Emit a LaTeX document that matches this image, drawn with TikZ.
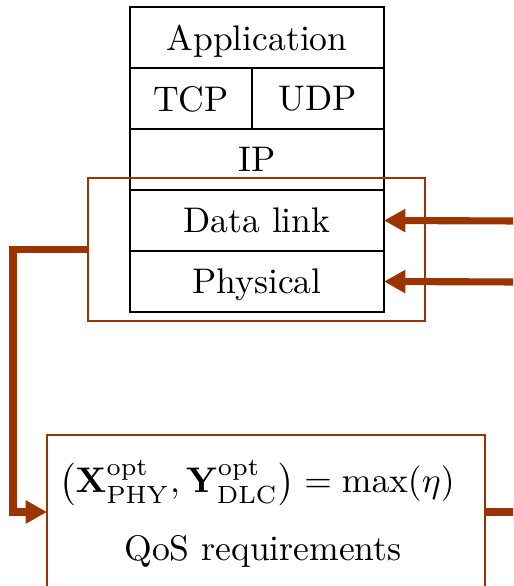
\documentclass[tikz,border=0pt]{standalone}
\usepackage{amssymb}
\usepackage{amsmath}
\usetikzlibrary{calc,arrows.meta}
\definecolor{rust}{RGB}{155,52,0}
\newcommand{\pxu}{0.281pt}

\begin{document}
\begin{tikzpicture}[x=\pxu,y=-\pxu,inner sep=0pt,outer sep=0pt,
    layer/.style={draw,line width=0.4pt,text depth=0pt,minimum width=254*\pxu,minimum height=61*\pxu,anchor=north west},
    frame/.style={draw=rust,line width=0.6pt,anchor=north west},
    link/.style={rust,line width=2pt},
    feed/.style={link,-{Triangle[length=6pt,width=6.2pt]}}]
    \useasboundingbox (0,0) rectangle (513,586);
    \clip (0,0) rectangle (513,586);

    % protocol stack
    \node[layer] (app) at (130,7) {Application};
    \node[layer,minimum width=122*\pxu] (tcp) at (130,68) {TCP};
    \node[layer,minimum width=132*\pxu] (udp) at (tcp.north east) {UDP};
    \node[layer] (ip) at (130,129) {IP};
    \node[layer] (data_link) at (130,190) {Data link};
    \node[layer] (phy) at (130,251) {Physical};

    % cross-layer frame
    \node[frame,minimum width=337*\pxu,minimum height=143*\pxu] (ll_frame) at (88,178) {};

    % optimisation box
    \node[frame,minimum width=438*\pxu,minimum height=154*\pxu] (opt_box) at (47,435) {};
    \node (opt_eq) at (257,483)
    {$\bigl(\mathbf{X}^{\mathrm{opt}}_{\mathrm{PHY}},\mathbf{Y}^{\mathrm{opt}}_{\mathrm{DLC}}\bigr)=\max(\eta)$};
    \node[text depth=0pt] (qos_req) at (263,548) {QoS requirements};

    % feedback links
    \coordinate (dl_in) at (520,221);
    \coordinate (phy_in) at (520,282);
    \coordinate (opt_out) at (520,512);
    \draw[feed] (dl_in) -- (data_link.east);
    \draw[feed] (phy_in) -- (phy.east);
    \draw[feed] (ll_frame.west) -- ($(ll_frame.west)+(-75,0)$) |- (opt_box.west);
    \draw[link] (opt_box.east) -- (opt_out);

\end{tikzpicture}
\end{document}
